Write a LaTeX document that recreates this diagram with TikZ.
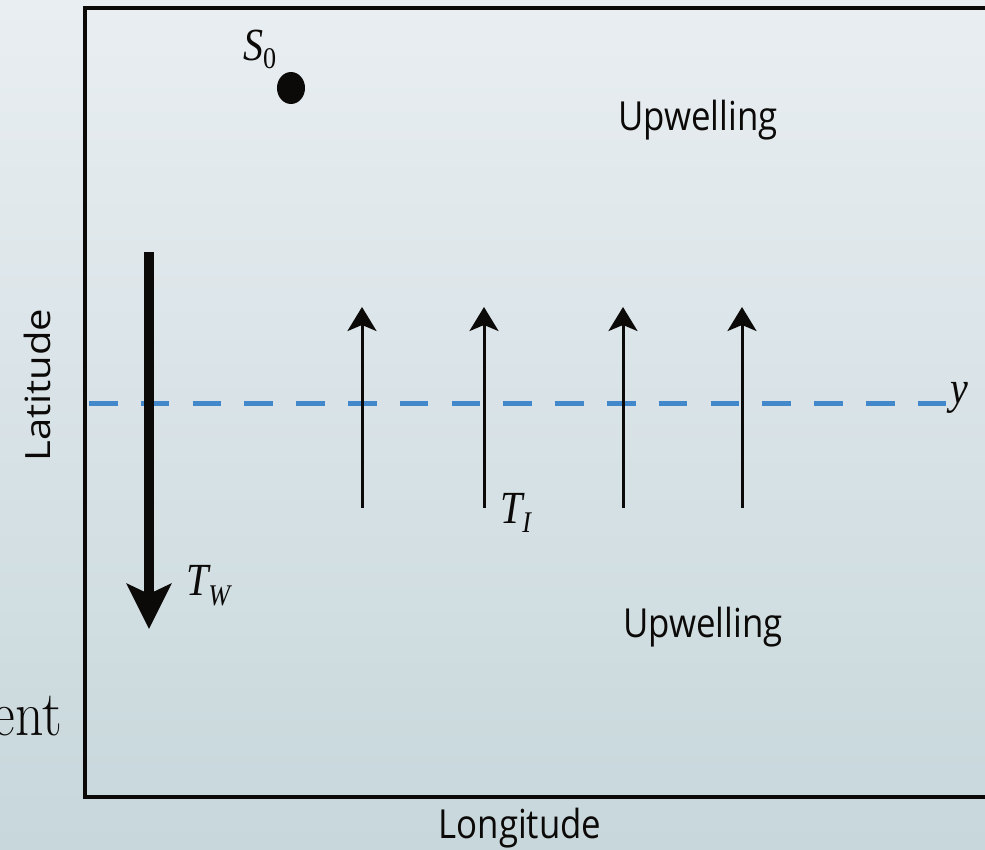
\documentclass[tikz,border=0pt]{standalone}
\usepackage{fontspec}
\usepackage{graphicx}
\setsansfont{Open Sans}
\newfontfamily\tms{Liberation Serif}
\usetikzlibrary{arrows.meta}
\definecolor{bgtop}{RGB}{233,238,242}
\definecolor{bgbot}{RGB}{199,215,219}
\definecolor{dashblue}{RGB}{68,136,204}
\definecolor{ink}{RGB}{12,10,8}
\newcommand\sq[1]{\scalebox{0.87}[1]{#1}}
\newcommand\mainsz{\fontsize{46}{50}\selectfont}
\newcommand\subsz{\fontsize{30}{32}\selectfont}
\begin{document}
\begin{tikzpicture}[x=1pt,y=-1pt,
  frame/.style={line width=4pt, draw=ink},
  lbl/.style={font=\sffamily\fontsize{40}{44}\selectfont, inner sep=0pt, text=ink},
  mth/.style={inner sep=0pt, text=ink},
  uparrow/.style={line width=3pt, draw=ink, -{Stealth[length=24pt,width=29pt,inset=6pt]}},
  bigarrow/.style={line width=10pt, draw=ink, -{Stealth[length=45pt,width=44pt,inset=10pt]}},
  dashline/.style={line width=5pt, draw=dashblue, dash pattern=on 28.5pt off 23.3pt},
]
\shade[top color=bgtop,bottom color=bgbot] (0,0) rectangle (985,849);
\useasboundingbox (0,0) rectangle (985,849);

% frame
\draw[frame] (1010,8) -- (85,8) -- (85,797) -- (1010,797);

% dashed line
\coordinate (dl) at (89,403);
\coordinate (dr) at (946,403);
\draw[dashline] (dl) -- (dr);

% up arrows
\foreach \i/\x in {1/362,2/484,3/623,4/742}{
  \coordinate (ub\i) at (\x,508);
  \coordinate (ut\i) at (\x,307);
  \draw[uparrow] (ub\i) -- (ut\i);
}

% big down arrow
\coordinate (wt) at (149,252);
\coordinate (wb) at (149,629);
\draw[bigarrow] (wt) -- (wb);

% dot
\fill[ink] (291,88) ellipse [x radius=14, y radius=16];
\node[mth, anchor=base west] (s0) at (243,60)
  {\sq{{\tms\mainsz\itshape S}\raisebox{-8pt}{\tms\subsz 0}}};

% labels
\node[mth, anchor=base west] (tw) at (186,595)
  {\sq{{\tms\mainsz\itshape T}\raisebox{-10pt}{\tms\subsz\itshape W}}};
\node[mth, anchor=base west] (ti) at (500,523)
  {\sq{{\tms\mainsz\itshape T}\raisebox{-9pt}{\tms\subsz\itshape I}}};
\node[mth, anchor=base west] (ylab) at (950,403)
  {\sq{{\tms\mainsz\itshape y}}};

\node[lbl, anchor=base] (up1) at (698,130) {\sq{Upwelling}};
\node[lbl, anchor=base] (up2) at (703,637) {\sq{Upwelling}};
\node[lbl, anchor=base] (lon) at (520,838) {\sq{Longitude}};
\node[lbl, anchor=base, rotate=90] (lat) at (50,385) {\scalebox{1}[0.87]{Latitude}};

\node[mth, anchor=base east] (ent) at (62,735)
  {\sq{\rmfamily\fontsize{64}{66}\selectfont ent}};
\end{tikzpicture}
\end{document}
